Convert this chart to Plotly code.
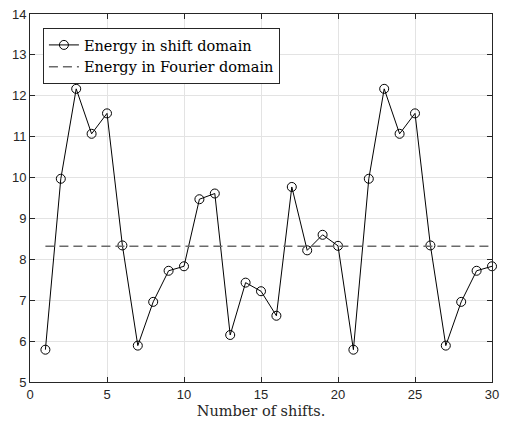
import plotly.graph_objects as go

# Energy measured for each circular shift of the signal
shifts = list(range(1, 31))
energy_shift = [5.79, 9.97, 12.17, 11.07, 11.57, 8.34, 5.89, 6.96, 7.72, 7.83,
                9.47, 9.61, 6.15, 7.43, 7.22, 6.62, 9.77, 8.22, 8.60, 8.33,
                5.79, 9.97, 12.17, 11.07, 11.57, 8.34, 5.89, 6.96, 7.72, 7.83]
# Constant energy level in the Fourier domain
energy_fourier = 8.32

axis_color = "#262626"
grid_color = "#e3e3e3"
serif = "DejaVu Serif, serif"
sans = "Liberation Sans, Arial, sans-serif"

fig = go.Figure()
fig.add_trace(go.Scatter(
    x=shifts, y=energy_shift, mode="lines+markers",
    name="Energy in shift domain", cliponaxis=False,
    line=dict(color="black", width=1),
    marker=dict(symbol="circle-open", size=9, color="black",
                line=dict(width=1, color="black")),
))
fig.add_trace(go.Scatter(
    x=[shifts[0], shifts[-1]], y=[energy_fourier, energy_fourier], mode="lines",
    name="Energy in Fourier domain",
    line=dict(color="#6a6a6a", width=1.5, dash="9px,5px"),
))

axis_common = dict(
    showline=True, linecolor=axis_color, linewidth=1, mirror="ticks",
    ticks="inside", ticklen=5, tickcolor=axis_color,
    showgrid=True, gridcolor=grid_color, gridwidth=1,
    zeroline=False,
    tickfont=dict(family=sans, size=13, color=axis_color),
)

fig.update_xaxes(range=[0, 30], dtick=5, tick0=0,
                 title=dict(text="Number of shifts.", standoff=5,
                            font=dict(family=serif, size=14.5, color=axis_color)),
                 **axis_common)
fig.update_yaxes(range=[5, 14], dtick=1, tick0=5, **axis_common)

fig.update_layout(
    width=506, height=424,
    margin=dict(l=30, r=7, t=11, b=42),
    paper_bgcolor="white", plot_bgcolor="white",
    showlegend=True,
    legend=dict(
        x=0.028, y=0.962, xanchor="left", yanchor="top",
        bgcolor="white", bordercolor=axis_color, borderwidth=1,
        font=dict(family=serif, size=14.5, color="black"),
        tracegroupgap=0, itemwidth=30,
    ),
)

fig.write_html("out.html")
